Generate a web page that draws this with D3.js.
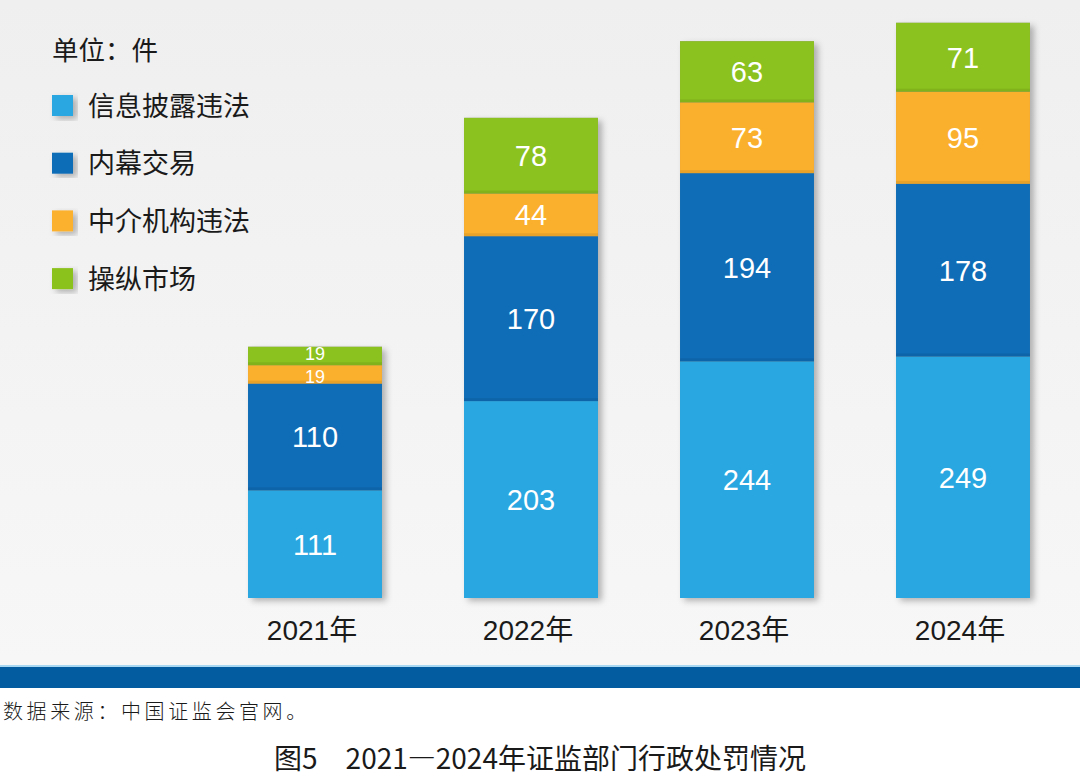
<!DOCTYPE html>
<html lang="zh">
<head>
<meta charset="UTF-8">
<title>2021—2024年证监部门行政处罚情况</title>
<script src="https://d3js.org/d3.v7.min.js"></script>
<style>
  body { margin: 0; background: #fff; }
  svg { display: block; }
  .val { fill: #fff; font-family: "Liberation Sans", Arial, sans-serif; font-size: 29px; text-anchor: middle; }
  .year { fill: #1a1a1a; font-family: "Liberation Sans", "Noto Sans CJK SC", sans-serif; font-size: 28px; text-anchor: middle; }
  .cjk { font-family: "Noto Sans CJK SC", sans-serif; fill: #1a1a1a; }
</style>
</head>
<body>
<svg id="chart" width="1080" height="779"></svg>
<script>
// data
const years = ["2021年", "2022年", "2023年", "2024年"];
const seriesNames = ["信息披露违法", "内幕交易", "中介机构违法", "操纵市场"];
const colors = ["#29a7e1", "#0f6db7", "#fbb02d", "#8cc21f"];
const disclosure = [111, 203, 244, 249];
const insider = [110, 170, 194, 178];
const intermediary = [19, 44, 73, 95];
const manipulation = [19, 78, 63, 71];

const svg = d3.select("#chart");

// background
const defs = svg.append("defs");
const bg = defs.append("linearGradient").attr("id", "bg").attr("x1", 0).attr("y1", 0).attr("x2", 0).attr("y2", 1);
bg.append("stop").attr("offset", "0%").attr("stop-color", "#efefef");
bg.append("stop").attr("offset", "100%").attr("stop-color", "#f7f7f7");
const shadow = defs.append("filter").attr("id", "shadow").attr("x", "-10%").attr("y", "-10%").attr("width", "130%").attr("height", "130%");
shadow.append("feDropShadow").attr("dx", 4).attr("dy", 3).attr("stdDeviation", 3)
  .attr("flood-color", "#000").attr("flood-opacity", 0.28);

svg.append("rect").attr("x", 0).attr("y", 0).attr("width", 1080).attr("height", 665).attr("fill", "url(#bg)");
svg.append("rect").attr("x", 0).attr("y", 665).attr("width", 1080).attr("height", 2).attr("fill", "#a9d8f2");
svg.append("rect").attr("x", 0).attr("y", 667).attr("width", 1080).attr("height", 21).attr("fill", "#035ba0");

// scales
const x = d3.scaleBand().domain(years).range([207, 1071]).paddingInner(0.38).paddingOuter(0.19);
const y = d3.scaleLinear().domain([0, 600]).range([598, 16]);

const table = years.map((yr, i) => ({
  year: yr,
  [seriesNames[0]]: disclosure[i],
  [seriesNames[1]]: insider[i],
  [seriesNames[2]]: intermediary[i],
  [seriesNames[3]]: manipulation[i]
}));
const stack = d3.stack().keys(seriesNames)(table);

// shadow per whole bar
svg.append("g").selectAll("rect")
  .data(table)
  .join("rect")
  .attr("x", d => x(d.year))
  .attr("width", x.bandwidth())
  .attr("y", d => y(d3.sum(seriesNames, k => d[k])))
  .attr("height", d => y(0) - y(d3.sum(seriesNames, k => d[k])))
  .attr("fill", "#888")
  .attr("filter", "url(#shadow)");

// segments
const layers = svg.append("g");
stack.forEach(layer => {
  const idx = seriesNames.indexOf(layer.key);
  layers.append("g")
    .selectAll("rect")
    .data(layer)
    .join("rect")
    .attr("x", d => x(d.data.year))
    .attr("width", x.bandwidth())
    .attr("y", d => y(d[1]))
    .attr("height", d => y(d[0]) - y(d[1]))
    .attr("fill", colors[idx]);
});

// thin separation shade between segments
stack.slice(0, 3).forEach(layer => {
  layers.append("g")
    .selectAll("rect")
    .data(layer)
    .join("rect")
    .attr("x", d => x(d.data.year))
    .attr("width", x.bandwidth())
    .attr("y", d => y(d[1]) - 3)
    .attr("height", 3)
    .attr("fill", "#000")
    .attr("opacity", 0.08);
});

// value labels; the two thin 2021 segments crowd, so shrink them and push apart a little
stack.forEach((layer, li) => {
  svg.append("g")
    .selectAll("text")
    .data(layer)
    .join("text")
    .attr("class", "val")
    .attr("x", d => x(d.data.year) + x.bandwidth() / 2)
    .attr("y", d => {
      const mid = (y(d[0]) + y(d[1])) / 2;
      if (d[1] - d[0] >= 30) return mid;
      return mid + (li === 3 ? -2.5 : 2.5);
    })
    .attr("dy", "0.36em")
    .style("font-size", d => (d[1] - d[0]) < 30 ? "18px" : null)
    .text(d => d[1] - d[0]);
});

// x labels
svg.append("g")
  .selectAll("text")
  .data(years)
  .join("text")
  .attr("class", "year")
  .attr("x", d => x(d) + x.bandwidth() / 2 - 3)
  .attr("y", 640)
  .text(d => d);

// legend
svg.append("text").attr("class", "cjk").attr("x", 52).attr("y", 60)
  .attr("font-size", 26.5).text("单位：件");
const legend = svg.append("g").selectAll("g")
  .data(seriesNames)
  .join("g")
  .attr("transform", (d, i) => `translate(52, ${95 + i * 57.7})`);
legend.append("rect").attr("width", 21).attr("height", 21)
  .attr("fill", (d, i) => colors[i]).attr("filter", "url(#shadow)");
legend.append("text").attr("class", "cjk").attr("x", 36).attr("y", 20.5)
  .attr("font-size", 27).text(d => d);

// source and title
svg.append("text").attr("class", "cjk").attr("x", 3).attr("y", 719)
  .attr("font-size", 20).attr("font-weight", 300).attr("letter-spacing", 3.6).attr("fill", "#333")
  .text("数据来源：中国证监会官网。");
svg.append("text").attr("class", "cjk").attr("x", 540).attr("y", 769)
  .attr("text-anchor", "middle").attr("font-size", 28)
  .text("图5　2021—2024年证监部门行政处罚情况");
</script>
</body>
</html>
